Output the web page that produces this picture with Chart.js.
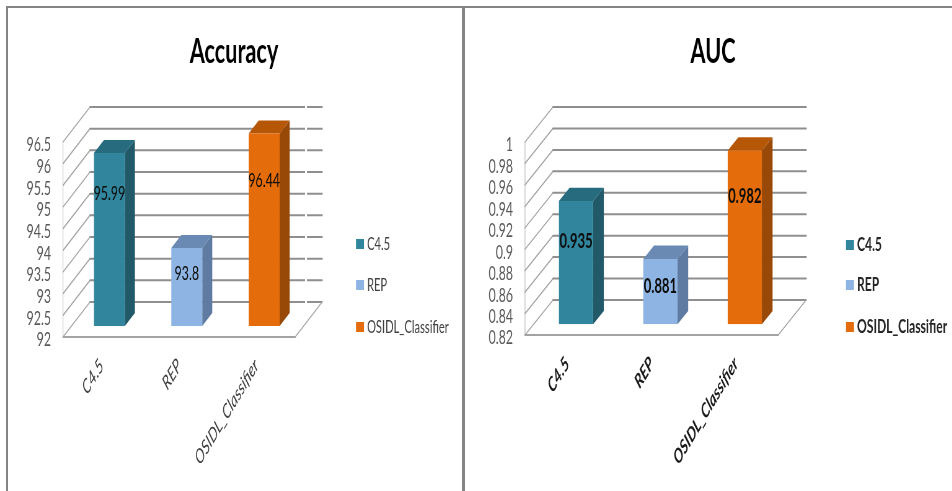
<!DOCTYPE html>
<html>
<head>
<meta charset="utf-8">
<title>Accuracy and AUC</title>
<script src="https://cdn.jsdelivr.net/npm/chart.js@4"></script>
<style>
  html, body { margin: 0; padding: 0; background: #fff; overflow: hidden; }
  #page { position: relative; width: 952px; height: 491px; overflow: hidden; }
  canvas { position: absolute; top: 0; transform-origin: 0 0; }
  #accuracyChart { left: 0; }
  #aucChart { left: 463px; }
  .rule { position: absolute; background: #858585; }
  #topRule { left: 6px; top: 6px; width: 946px; height: 2px; }
  #leftRule { left: 6px; top: 6px; width: 2px; height: 485px; }
  #midRule { left: 462px; top: 6px; width: 3px; height: 485px; }
  #seam { position: absolute; left: 305px; top: 0; width: 2px; height: 306px; background: #fff; }
</style>
</head>
<body>
<div id="page">
  <canvas id="accuracyChart"></canvas>
  <canvas id="aucChart"></canvas>
  <div id="seam"></div>
  <div class="rule" id="topRule"></div>
  <div class="rule" id="leftRule"></div>
  <div class="rule" id="midRule"></div>
</div>
<script>
const categories = ["C4.5", "REP", "OSIDL_Classifier"];
const accuracyValues = [95.99, 93.8, 96.44];
const aucValues = [0.935, 0.881, 0.982];
const accuracyLabels = ["95.99", "93.8", "96.44"];
const aucLabels = ["0.935", "0.881", "0.982"];

const frontColors = ["#31859c", "#8eb4e3", "#e46c0a"];
const sideColors = ["#215968", "#5f7ba1", "#984807"];
const topColors = ["#266b7e", "#6a8ab3", "#b65708"];

const face = 'Lato, "Open Sans", sans-serif';

// the canvases are drawn wide and squeezed with CSS, which gives the tall narrow lettering
const squeeze = 0.62;
function sx(px) {
  return px / squeeze;
}

// fake 3D box: walls and floor behind the bars, side and top faces on each bar
const box3d = {
  id: "box3d",
  afterLayout(chart, args, o) {
    chart.titleBlock.left = o.titleCenter - sx(230);
    chart.titleBlock.right = o.titleCenter + sx(230);
  },
  beforeDatasetsDraw(chart, args, o) {
    const ctx = chart.ctx;
    const area = chart.chartArea;
    const y = chart.scales.y;

    ctx.save();
    ctx.lineCap = "round";
    ctx.strokeStyle = "#b5b5b5";
    ctx.lineWidth = 1;
    ctx.beginPath();
    ctx.moveTo(area.left, area.top);
    ctx.lineTo(area.left, area.bottom);
    ctx.stroke();

    y.ticks.forEach(function (t) {
      const py = y.getPixelForValue(t.value);
      ctx.strokeStyle = "#a3a3a3";
      ctx.lineWidth = 1.5;
      ctx.beginPath();
      ctx.moveTo(area.left, py);
      ctx.lineTo(area.left + o.depthX, py - o.depthY);
      ctx.stroke();
      ctx.strokeStyle = "#8f8f8f";
      ctx.lineWidth = 2;
      ctx.beginPath();
      ctx.moveTo(area.left + o.depthX, py - o.depthY);
      ctx.lineTo(area.right + o.depthX, py - o.depthY);
      ctx.stroke();
    });

    // floor edges
    ctx.strokeStyle = "#a3a3a3";
    ctx.lineWidth = 2;
    ctx.beginPath();
    ctx.moveTo(area.left, area.bottom);
    ctx.lineTo(area.right, area.bottom);
    ctx.stroke();
    ctx.lineWidth = 1.5;
    ctx.beginPath();
    ctx.moveTo(area.right, area.bottom);
    ctx.lineTo(area.right + o.depthX, area.bottom - o.depthY);
    ctx.stroke();
    ctx.restore();

    // bars stand in the middle of the floor, so shift them off the front plane
    ctx.save();
    ctx.translate(o.shiftX, -o.shiftY);
    chart.getDatasetMeta(0).data.forEach(function (bar, i) {
      const left = bar.x - bar.width / 2;
      const right = bar.x + bar.width / 2;
      ctx.fillStyle = sideColors[i];
      ctx.beginPath();
      ctx.moveTo(right, bar.y);
      ctx.lineTo(right + o.barDepthX, bar.y - o.barDepthY);
      ctx.lineTo(right + o.barDepthX, bar.base - o.barDepthY);
      ctx.lineTo(right, bar.base);
      ctx.closePath();
      ctx.fill();
      ctx.fillStyle = topColors[i];
      ctx.beginPath();
      ctx.moveTo(left, bar.y);
      ctx.lineTo(left + o.barDepthX, bar.y - o.barDepthY);
      ctx.lineTo(right + o.barDepthX, bar.y - o.barDepthY);
      ctx.lineTo(right, bar.y);
      ctx.closePath();
      ctx.fill();
    });
  },
  afterDatasetsDraw(chart, args, o) {
    const ctx = chart.ctx;
    ctx.restore();

    // value labels on the front faces
    ctx.save();
    ctx.font = o.valueFont;
    ctx.fillStyle = "#0d0d0d";
    ctx.textAlign = "center";
    ctx.textBaseline = "middle";
    chart.getDatasetMeta(0).data.forEach(function (bar, i) {
      ctx.fillText(o.valueLabels[i], bar.x + o.shiftX, bar.y - o.shiftY + o.labelDrop[i]);
    });
    ctx.restore();

    // legend column
    ctx.save();
    ctx.font = o.legendFont;
    ctx.textAlign = "left";
    ctx.textBaseline = "middle";
    categories.forEach(function (name, i) {
      const ly = o.legendY[i];
      ctx.fillStyle = frontColors[i];
      ctx.fillRect(o.legendX, ly - 5, sx(8), 10);
      ctx.fillStyle = o.legendColor;
      ctx.fillText(name, o.legendX + sx(11), ly);
    });
    ctx.restore();
  }
};

function makeChart(id, width, values, s) {
  const canvas = document.getElementById(id);
  canvas.width = Math.round(sx(width));
  canvas.height = 491;
  canvas.style.width = canvas.width + "px";
  canvas.style.height = "491px";
  canvas.style.transform = "scaleX(" + squeeze + ")";

  return new Chart(canvas, {
    type: "bar",
    data: {
      labels: categories,
      datasets: [{
        data: values,
        base: s.min,
        backgroundColor: frontColors,
        barPercentage: s.barPercentage,
        categoryPercentage: 1,
      }],
    },
    plugins: [box3d],
    options: {
      responsive: false,
      animation: false,
      layout: { padding: { left: 0, right: sx(s.paddingRight), top: 0, bottom: 0 } },
      plugins: {
        legend: { display: false },
        tooltip: { enabled: false },
        title: {
          display: true,
          text: s.title,
          color: "#000",
          font: { family: face, size: 35, weight: "bold", lineHeight: 1 },
          padding: { top: 34, bottom: 73 },
        },
        box3d: s.box,
      },
      scales: {
        x: {
          afterFit: function (scale) { scale.height = s.axisHeight; },
          grid: { display: false },
          border: { display: false },
          ticks: {
            autoSkip: false,
            minRotation: 46,
            maxRotation: 46,
            padding: 9,
            color: s.xColor,
            font: { family: face, size: 20, style: "italic", weight: s.xWeight },
          },
        },
        y: {
          min: s.min,
          max: s.max,
          afterFit: function (scale) { scale.width = sx(s.axisWidth); },
          grid: { display: false },
          border: { display: false },
          ticks: {
            stepSize: s.step,
            autoSkip: false,
            padding: sx(7),
            labelOffset: 3,
            color: "#595959",
            font: { family: face, size: 20 },
            callback: function (v) { return String(+v.toFixed(2)); },
          },
        },
      },
    },
  });
}

var accuracy = makeChart("accuracyChart", 463, accuracyValues, {
  title: "Accuracy",
  min: 92,
  max: 96.5,
  step: 0.5,
  barPercentage: 0.4,
  paddingRight: 168,
  axisWidth: 63,
  axisHeight: 154,
  xColor: "#404040",
  xWeight: "normal",
  box: {
    titleCenter: sx(234),
    depthX: sx(27),
    depthY: 35,
    shiftX: sx(7.7),
    shiftY: 11,
    barDepthX: sx(10),
    barDepthY: 13,
    valueLabels: accuracyLabels,
    valueFont: "20px " + face,
    labelDrop: [40, 26, 47],
    legendFont: "18px " + face,
    legendColor: "#404040",
    legendX: sx(356),
    legendY: [244, 285, 327],
  },
});

var auc = makeChart("aucChart", 489, aucValues, {
  title: "AUC",
  min: 0.82,
  max: 1,
  step: 0.02,
  barPercentage: 0.405,
  paddingRight: 174,
  axisWidth: 62,
  axisHeight: 156,
  xColor: "#1a1a1a",
  xWeight: "bold",
  box: {
    titleCenter: sx(250),
    depthX: sx(28),
    depthY: 35,
    shiftX: sx(8.8),
    shiftY: 10.7,
    barDepthX: sx(10.7),
    barDepthY: 13.3,
    valueLabels: aucLabels,
    valueFont: "bold 21px " + face,
    labelDrop: [40, 27, 46],
    legendFont: "bold 19.5px " + face,
    legendColor: "#262626",
    legendX: sx(383),
    legendY: [245, 285, 327],
  },
});
</script>
</body>
</html>
